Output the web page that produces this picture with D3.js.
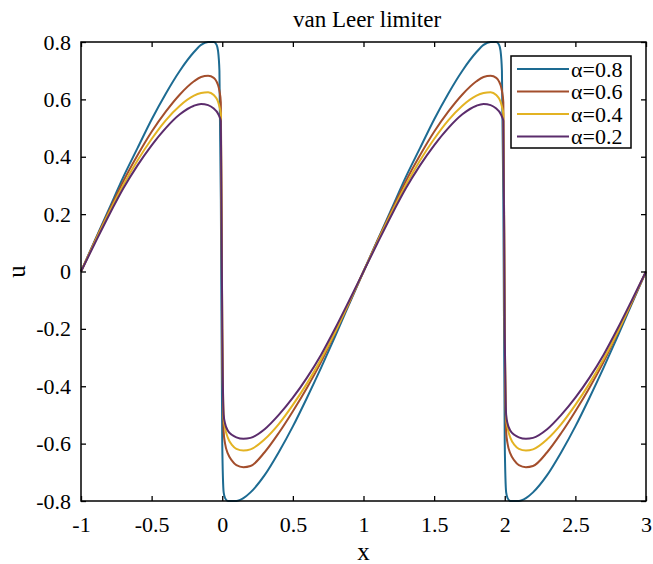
<!DOCTYPE html>
<html>
<head>
<meta charset="utf-8">
<script src="https://cdn.jsdelivr.net/npm/d3@7"></script>
<style>
  body { margin: 0; background: #fff; }
  svg { font-family: "Liberation Serif", "Times New Roman", serif; }
</style>
</head>
<body>
<div id="chart"></div>
<script>
var xs = [-1, -0.9, -0.8, -0.7, -0.6, -0.5, -0.4, -0.3, -0.2, -0.15, -0.1, -0.06, -0.04, -0.03, -0.02, -0.01,
  0, 0.01, 0.02, 0.04, 0.07, 0.1, 0.15, 0.2, 0.3, 0.4, 0.5, 0.6, 0.7, 0.8, 0.9,
  1, 1.1, 1.2, 1.3, 1.4, 1.5, 1.6, 1.7, 1.8, 1.85, 1.9, 1.94, 1.96, 1.97, 1.98, 1.99,
  2, 2.01, 2.02, 2.04, 2.07, 2.1, 2.15, 2.2, 2.3, 2.4, 2.5, 2.6, 2.7, 2.8, 2.9, 3];

var u08 = [0, 0.11, 0.22, 0.33, 0.43, 0.53, 0.62, 0.70, 0.765, 0.79, 0.80, 0.80, 0.79, 0.77, 0.70, 0.25,
  -0.6, -0.77, -0.79, -0.80, -0.80, -0.80, -0.79, -0.77, -0.71, -0.63, -0.54, -0.44, -0.335, -0.225, -0.112,
  0, 0.11, 0.22, 0.33, 0.43, 0.53, 0.62, 0.70, 0.765, 0.79, 0.80, 0.80, 0.79, 0.77, 0.70, 0.25,
  -0.6, -0.77, -0.79, -0.80, -0.80, -0.80, -0.79, -0.77, -0.71, -0.63, -0.54, -0.44, -0.335, -0.225, -0.112, 0];

var u06 = [0, 0.108, 0.213, 0.315, 0.405, 0.487, 0.557, 0.617, 0.663, 0.678, 0.682, 0.675, 0.662, 0.65, 0.63, 0.59,
  -0.2, -0.56, -0.6, -0.635, -0.66, -0.675, -0.682, -0.678, -0.63, -0.563, -0.487, -0.405, -0.315, -0.213, -0.108,
  0, 0.108, 0.213, 0.315, 0.405, 0.487, 0.557, 0.617, 0.663, 0.678, 0.682, 0.675, 0.662, 0.65, 0.63, 0.59,
  -0.2, -0.56, -0.6, -0.635, -0.66, -0.675, -0.682, -0.678, -0.63, -0.563, -0.487, -0.405, -0.315, -0.213, -0.108, 0];

var u04 = [0, 0.105, 0.207, 0.302, 0.387, 0.462, 0.527, 0.578, 0.613, 0.622, 0.625, 0.615, 0.603, 0.592, 0.575, 0.55,
  -0.2, -0.51, -0.545, -0.58, -0.605, -0.618, -0.624, -0.62, -0.585, -0.532, -0.465, -0.39, -0.305, -0.21, -0.105,
  0, 0.105, 0.207, 0.302, 0.387, 0.462, 0.527, 0.578, 0.613, 0.622, 0.625, 0.615, 0.603, 0.592, 0.575, 0.55,
  -0.2, -0.51, -0.545, -0.58, -0.605, -0.618, -0.624, -0.62, -0.585, -0.532, -0.465, -0.39, -0.305, -0.21, -0.105, 0];

var u02 = [0, 0.1, 0.198, 0.29, 0.37, 0.44, 0.5, 0.548, 0.578, 0.584, 0.58, 0.568, 0.558, 0.55, 0.54, 0.525,
  -0.2, -0.5, -0.53, -0.555, -0.57, -0.578, -0.583, -0.58, -0.55, -0.5, -0.44, -0.37, -0.29, -0.198, -0.1,
  0, 0.1, 0.198, 0.29, 0.37, 0.44, 0.5, 0.548, 0.578, 0.584, 0.58, 0.568, 0.558, 0.55, 0.54, 0.525,
  -0.2, -0.5, -0.53, -0.555, -0.57, -0.578, -0.583, -0.58, -0.55, -0.5, -0.44, -0.37, -0.29, -0.198, -0.1, 0];

var seriesNames = ["α=0.8", "α=0.6", "α=0.4", "α=0.2"];
var seriesValues = [u08, u06, u04, u02];
var colors = ["#1d6b92", "#a34e2c", "#e3b323", "#5b2c6c"];

var xTicks = [-1, -0.5, 0, 0.5, 1, 1.5, 2, 2.5, 3];
var yTicks = [-0.8, -0.6, -0.4, -0.2, 0, 0.2, 0.4, 0.6, 0.8];

var width = 653, height = 564;
var plotLeft = 81, plotRight = 646, plotTop = 42, plotBottom = 501;

var svg = d3.select("#chart").append("svg")
  .attr("width", width)
  .attr("height", height);

var x = d3.scaleLinear().domain([-1, 3]).range([plotLeft, plotRight]);
var y = d3.scaleLinear().domain([-0.8, 0.8]).range([plotBottom, plotTop]);

// curves
var line = d3.line()
  .x(function (d) { return x(d[0]); })
  .y(function (d) { return y(d[1]); })
  .curve(d3.curveMonotoneX);

svg.append("g")
  .selectAll("path")
  .data(seriesValues)
  .enter()
  .append("path")
  .attr("d", function (vals) { return line(xs.map(function (v, i) { return [v, vals[i]]; })); })
  .attr("fill", "none")
  .attr("stroke", function (d, i) { return colors[i]; })
  .attr("stroke-width", 2)
  .attr("stroke-linejoin", "round");

// axes, ticks inside like matlab
function styleAxis(g) {
  g.select(".domain").remove();
  g.selectAll(".tick line").attr("stroke", "#000").attr("stroke-width", 1.3);
  g.selectAll(".tick text").attr("fill", "#000")
    .style("font-family", "Liberation Serif, Times New Roman, serif")
    .style("font-size", "22px");
}

var fmt = function (d) { return d3.format("")(d).replace("−", "-"); };

svg.append("g")
  .attr("transform", "translate(0," + plotBottom + ")")
  .call(d3.axisBottom(x).tickValues(xTicks).tickFormat(fmt).tickSizeInner(-5).tickSizeOuter(0).tickPadding(15))
  .call(styleAxis);

svg.append("g")
  .attr("transform", "translate(0," + plotTop + ")")
  .call(d3.axisTop(x).tickValues(xTicks).tickFormat("").tickSizeInner(-5).tickSizeOuter(0))
  .call(styleAxis);

svg.append("g")
  .attr("transform", "translate(" + plotLeft + ",0)")
  .call(d3.axisLeft(y).tickValues(yTicks).tickFormat(fmt).tickSizeInner(-5).tickSizeOuter(0).tickPadding(10))
  .call(styleAxis);

svg.append("g")
  .attr("transform", "translate(" + plotRight + ",0)")
  .call(d3.axisRight(y).tickValues(yTicks).tickFormat("").tickSizeInner(-5).tickSizeOuter(0))
  .call(styleAxis);

svg.append("rect")
  .attr("x", plotLeft).attr("y", plotTop)
  .attr("width", plotRight - plotLeft).attr("height", plotBottom - plotTop)
  .attr("fill", "none").attr("stroke", "#000").attr("stroke-width", 1.5);

// title and labels
svg.append("text")
  .attr("x", 367).attr("y", 27)
  .attr("text-anchor", "middle")
  .style("font-size", "23px")
  .text("van Leer limiter");

svg.append("text")
  .attr("x", (plotLeft + plotRight) / 2).attr("y", 560)
  .attr("text-anchor", "middle")
  .style("font-size", "25px")
  .text("x");

svg.append("text")
  .attr("transform", "translate(25," + y(0) + ") rotate(-90)")
  .attr("text-anchor", "middle")
  .style("font-size", "25px")
  .text("u");

// legend
var legend = svg.append("g");
legend.append("rect")
  .attr("x", 511).attr("y", 56)
  .attr("width", 120).attr("height", 92)
  .attr("fill", "#fff").attr("stroke", "#000").attr("stroke-width", 1.5);

var items = legend.selectAll("g.item")
  .data(seriesNames)
  .enter()
  .append("g")
  .attr("class", "item")
  .attr("transform", function (d, i) { return "translate(0," + (69 + i * 22.5) + ")"; });

items.append("line")
  .attr("x1", 517).attr("x2", 569)
  .attr("stroke", function (d, i) { return colors[i]; })
  .attr("stroke-width", 2);

items.append("text")
  .attr("x", 571)
  .attr("dy", "0.35em")
  .style("font-size", "22px")
  .text(function (d) { return d; });
</script>
</body>
</html>
